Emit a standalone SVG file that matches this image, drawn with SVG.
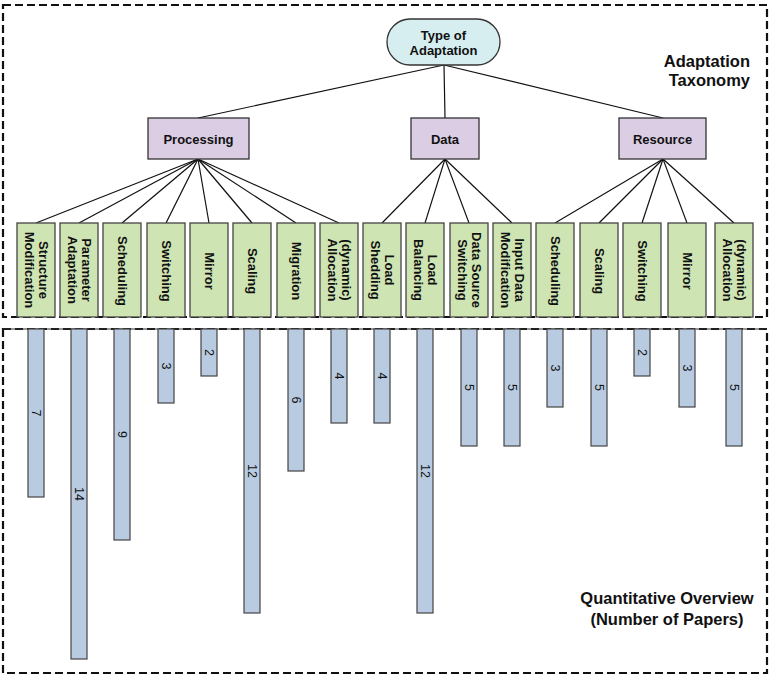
<svg xmlns="http://www.w3.org/2000/svg" width="775" height="680" viewBox="0 0 775 680">
<style>
text{font-family:"Liberation Sans",Arial,Helvetica,sans-serif;fill:#111;text-anchor:middle}
.frame{fill:none;stroke:#111;stroke-width:2.2;stroke-dasharray:8 4}
.root{fill:#d6eef0;stroke:#333;stroke-width:1.3}
.cat{fill:#dacde4;stroke:#333;stroke-width:1.3}
.leaf{fill:#cfe4b3;stroke:#444;stroke-width:1.3}
.bar{fill:#b8cbe0;stroke:#444;stroke-width:1.2}
.lbl{font-size:13px;font-weight:bold}
.leaft{font-size:13px;font-weight:bold}
.num{font-size:12.5px}
.title{font-size:16.5px;font-weight:bold}
.conn line{stroke:#111;stroke-width:1.2}
</style>
<rect x="0" y="0" width="775" height="680" fill="#fff"/>
<g id="frames">
<rect class="frame" x="3" y="5" width="764" height="312"/>
<rect class="frame" x="3" y="329" width="764" height="344"/>
<line x1="3" y1="329" x2="767" y2="329" stroke="#333" stroke-width="1.2"/>
</g>
<g id="connectors" class="conn">
<line x1="444" y1="65" x2="198" y2="118"/>
<line x1="444" y1="65" x2="445" y2="118"/>
<line x1="444" y1="65" x2="663" y2="118"/>
<line x1="198" y1="159" x2="36" y2="223"/>
<line x1="198" y1="159" x2="79" y2="223"/>
<line x1="198" y1="159" x2="122" y2="223"/>
<line x1="198" y1="159" x2="166" y2="223"/>
<line x1="198" y1="159" x2="209" y2="223"/>
<line x1="198" y1="159" x2="252" y2="223"/>
<line x1="198" y1="159" x2="296" y2="223"/>
<line x1="198" y1="159" x2="339" y2="223"/>
<line x1="445" y1="159" x2="382" y2="223"/>
<line x1="445" y1="159" x2="425" y2="223"/>
<line x1="445" y1="159" x2="469" y2="223"/>
<line x1="445" y1="159" x2="512" y2="223"/>
<line x1="663" y1="159" x2="555" y2="223"/>
<line x1="663" y1="159" x2="599" y2="223"/>
<line x1="663" y1="159" x2="642" y2="223"/>
<line x1="663" y1="159" x2="687" y2="223"/>
<line x1="663" y1="159" x2="734" y2="223"/>
</g>
<g id="root">
<rect class="root" x="387" y="19" width="113" height="46" rx="23" ry="23"/>
<text class="lbl" x="443.5" y="40">Type of</text>
<text class="lbl" x="443.5" y="55">Adaptation</text>
</g>
<g id="processing">
<rect class="cat" x="148" y="118" width="101" height="41"/>
<text class="lbl" x="198.5" y="143.5">Processing</text>
</g>
<g id="data">
<rect class="cat" x="411" y="118" width="68" height="41"/>
<text class="lbl" x="445" y="143.5">Data</text>
</g>
<g id="resource">
<rect class="cat" x="619" y="118" width="87" height="41"/>
<text class="lbl" x="662.5" y="143.5">Resource</text>
</g>
<g id="leaf-p1"><rect class="leaf" x="17" y="223" width="38" height="94"/><g transform="translate(36,270) rotate(90)"><text class="leaft" y="-2.5">Structure</text><text class="leaft" y="11.5">Modification</text></g></g>
<g id="leaf-p2"><rect class="leaf" x="60" y="223" width="38" height="94"/><g transform="translate(79,270) rotate(90)"><text class="leaft" y="-2.5">Parameter</text><text class="leaft" y="11.5">Adaptation</text></g></g>
<g id="leaf-p3"><rect class="leaf" x="103" y="223" width="38" height="94"/><g transform="translate(122,271) rotate(90)"><text class="leaft" y="4.5">Scheduling</text></g></g>
<g id="leaf-p4"><rect class="leaf" x="147" y="223" width="38" height="94"/><g transform="translate(166,271) rotate(90)"><text class="leaft" y="4.5">Switching</text></g></g>
<g id="leaf-p5"><rect class="leaf" x="190" y="223" width="38" height="94"/><g transform="translate(209,271) rotate(90)"><text class="leaft" y="4.5">Mirror</text></g></g>
<g id="leaf-p6"><rect class="leaf" x="233" y="223" width="38" height="94"/><g transform="translate(252,271) rotate(90)"><text class="leaft" y="4.5">Scaling</text></g></g>
<g id="leaf-p7"><rect class="leaf" x="277" y="223" width="38" height="94"/><g transform="translate(296,271) rotate(90)"><text class="leaft" y="4.5">Migration</text></g></g>
<g id="leaf-p8"><rect class="leaf" x="320" y="223" width="38" height="94"/><g transform="translate(339,270) rotate(90)"><text class="leaft" y="-2.5">(dynamic)</text><text class="leaft" y="11.5">Allocation</text></g></g>
<g id="leaf-d1"><rect class="leaf" x="363" y="223" width="38" height="94"/><g transform="translate(382,270) rotate(90)"><text class="leaft" y="-2.5">Load</text><text class="leaft" y="11.5">Shedding</text></g></g>
<g id="leaf-d2"><rect class="leaf" x="406" y="223" width="38" height="94"/><g transform="translate(425,270) rotate(90)"><text class="leaft" y="-2.5">Load</text><text class="leaft" y="11.5">Balancing</text></g></g>
<g id="leaf-d3"><rect class="leaf" x="450" y="223" width="38" height="94"/><g transform="translate(469,270) rotate(90)"><text class="leaft" y="-2.5">Data Source</text><text class="leaft" y="11.5">Switching</text></g></g>
<g id="leaf-d4"><rect class="leaf" x="493" y="223" width="38" height="94"/><g transform="translate(512,270) rotate(90)"><text class="leaft" y="-2.5">Input Data</text><text class="leaft" y="11.5">Modification</text></g></g>
<g id="leaf-r1"><rect class="leaf" x="536" y="223" width="38" height="94"/><g transform="translate(555,271) rotate(90)"><text class="leaft" y="4.5">Scheduling</text></g></g>
<g id="leaf-r2"><rect class="leaf" x="580" y="223" width="38" height="94"/><g transform="translate(599,271) rotate(90)"><text class="leaft" y="4.5">Scaling</text></g></g>
<g id="leaf-r3"><rect class="leaf" x="623" y="223" width="38" height="94"/><g transform="translate(642,271) rotate(90)"><text class="leaft" y="4.5">Switching</text></g></g>
<g id="leaf-r4"><rect class="leaf" x="668" y="223" width="38" height="94"/><g transform="translate(687,271) rotate(90)"><text class="leaft" y="4.5">Mirror</text></g></g>
<g id="leaf-r5"><rect class="leaf" x="715" y="223" width="38" height="94"/><g transform="translate(734,270) rotate(90)"><text class="leaft" y="-2.5">(dynamic)</text><text class="leaft" y="11.5">Allocation</text></g></g>
<g id="bars">
<rect class="bar" x="28" y="329" width="16" height="168"/><text class="num" transform="translate(36,413) rotate(90)" y="4.3">7</text>
<rect class="bar" x="71" y="329" width="16" height="330"/><text class="num" transform="translate(79,494) rotate(90)" y="4.3">14</text>
<rect class="bar" x="114" y="329" width="16" height="211"/><text class="num" transform="translate(122,434.5) rotate(90)" y="4.3">9</text>
<rect class="bar" x="158" y="329" width="16" height="74"/><text class="num" transform="translate(166,366) rotate(90)" y="4.3">3</text>
<rect class="bar" x="201" y="329" width="16" height="47"/><text class="num" transform="translate(209,352.5) rotate(90)" y="4.3">2</text>
<rect class="bar" x="244" y="329" width="16" height="284"/><text class="num" transform="translate(252,471) rotate(90)" y="4.3">12</text>
<rect class="bar" x="288" y="329" width="16" height="142"/><text class="num" transform="translate(296,400) rotate(90)" y="4.3">6</text>
<rect class="bar" x="331" y="329" width="16" height="94"/><text class="num" transform="translate(339,376) rotate(90)" y="4.3">4</text>
<rect class="bar" x="374" y="329" width="16" height="94"/><text class="num" transform="translate(382,376) rotate(90)" y="4.3">4</text>
<rect class="bar" x="417" y="329" width="16" height="284"/><text class="num" transform="translate(425,471) rotate(90)" y="4.3">12</text>
<rect class="bar" x="461" y="329" width="16" height="117"/><text class="num" transform="translate(469,387.5) rotate(90)" y="4.3">5</text>
<rect class="bar" x="504" y="329" width="16" height="117"/><text class="num" transform="translate(512,387.5) rotate(90)" y="4.3">5</text>
<rect class="bar" x="547" y="329" width="16" height="78"/><text class="num" transform="translate(555,368) rotate(90)" y="4.3">3</text>
<rect class="bar" x="591" y="329" width="16" height="117"/><text class="num" transform="translate(599,387.5) rotate(90)" y="4.3">5</text>
<rect class="bar" x="634" y="329" width="16" height="47"/><text class="num" transform="translate(642,352.5) rotate(90)" y="4.3">2</text>
<rect class="bar" x="679" y="329" width="16" height="78"/><text class="num" transform="translate(687,368) rotate(90)" y="4.3">3</text>
<rect class="bar" x="726" y="329" width="16" height="117"/><text class="num" transform="translate(734,387.5) rotate(90)" y="4.3">5</text>
</g>
<g id="titles">
<text class="title" x="750" y="67" style="text-anchor:end">Adaptation</text>
<text class="title" x="750" y="86" style="text-anchor:end">Taxonomy</text>
<text class="title" x="667" y="604">Quantitative Overview</text>
<text class="title" x="667" y="625">(Number of Papers)</text>
</g>
</svg>
